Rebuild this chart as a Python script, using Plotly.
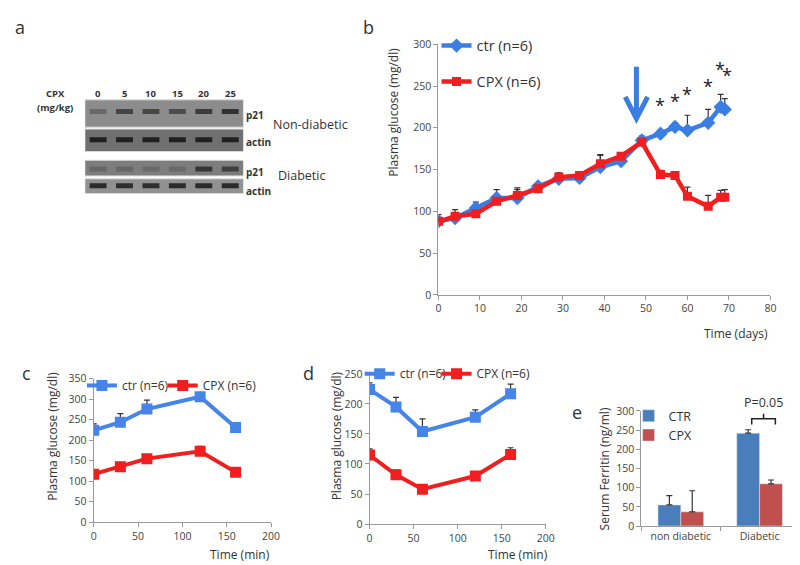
import plotly.graph_objects as go

W, H = 800, 565
def PX(x): return x / W
def PY(y): return 1 - y / H

FONT = "Open Sans"
BLUE = "#3a7de3"
BLUE2 = "#4784e8"
RED = "#f01e1e"
ERRC = "#333333"

# ---------- panel a: western blot ----------
lanes = ["0", "5", "10", "15", "20", "25"]
p21_nondiab = [0.30, 0.62, 0.60, 0.55, 0.70, 0.78]
actin_nondiab = [0.92, 0.90, 0.92, 0.92, 0.90, 0.90]
p21_diab = [0.22, 0.22, 0.18, 0.20, 0.72, 0.62]
actin_diab = [0.85, 0.82, 0.82, 0.85, 0.85, 0.85]

# ---------- panel b ----------
days = [0, 4, 9, 14, 19, 24, 29, 34, 39, 44, 49, 53.5, 57, 60, 65, 68, 69]
ctr_b = [88, 92, 104, 116, 116, 130, 139, 140, 153, 160, 185, 193, 201, 197, 206, 225, 222]
ctr_b_err = [8, 10, 7, 10, 10, 3, 6, 5, 14, 8, 5, 4, 5, 18, 16, 15, 13]
cpx_b = [88, 94, 97, 112, 119, 127, 141, 143, 157, 166, 183, 144, 143, 118, 106, 117, 117]
cpx_b_err = [4, 4, 4, 4, 9, 4, 5, 4, 11, 3, 3, 5, 2, 11, 13, 8, 9]
star_days = [53.5, 57, 60, 65, 67.8, 69.5]
star_y = [218, 223, 231, 241, 261, 254]

# ---------- panel c ----------
t_min = [0, 30, 60, 120, 160]
ctr_c = [224, 244, 276, 306, 231]
ctr_c_err = [16, 21, 22, 8, 10]
cpx_c = [117, 135, 155, 173, 122]
cpx_c_err = [6, 5, 8, 12, 5]

# ---------- panel d ----------
ctr_d = [224, 195, 154, 178, 217]
ctr_d_err = [11, 16, 21, 12, 16]
cpx_d = [115, 82, 58, 80, 116]
cpx_d_err = [10, 8, 5, 5, 11]

# ---------- panel e ----------
groups_e = ["non diabetic", "Diabetic"]
ctr_e = [55, 242]
ctr_e_err = [24, 9]
cpx_e = [37, 110]
cpx_e_err = [55, 10]

fig = go.Figure()

def errs(a):
    return dict(type="data", symmetric=False, array=a, arrayminus=[0] * len(a),
                color=ERRC, thickness=1.2, width=3)

# panel a bands
strips = [  # (top, bottom, band_y, bg gray level, intensities)
    (87, 115, 99, 140, p21_nondiab),
    (117, 140, 128, 112, actin_nondiab),
    (149, 165, 158, 125, p21_diab),
    (168, 183, 175, 145, actin_diab),
]
shapes = []
for top, bot, by, bg, inten in strips:
    shapes.append(dict(type="rect", xref="x5", yref="y5", x0=-0.5, x1=5.5, y0=top, y1=bot,
                       fillcolor=f"rgb({bg},{bg},{bg})", line=dict(color="#d8d8d8", width=1),
                       layer="below"))
    for i, v in enumerate(inten):
        g = int(bg * (1 - v) + 25 * v)
        fig.add_trace(go.Scatter(x=[i - 0.32, i + 0.32], y=[by, by], mode="lines",
                                 line=dict(color=f"rgb({g},{g},{g})", width=5),
                                 xaxis="x5", yaxis="y5", showlegend=False, hoverinfo="skip"))

# panel b
fig.add_trace(go.Scatter(x=days, y=ctr_b, name="ctr (n=6)", mode="lines+markers",
                         line=dict(color=BLUE, width=4.5),
                         marker=dict(symbol="diamond", size=11, color=BLUE),
                         error_y=errs(ctr_b_err), xaxis="x", yaxis="y",
                         legend="legend", legendgroup="b1"))
fig.add_trace(go.Scatter(x=days, y=cpx_b, name="CPX (n=6)", mode="lines+markers",
                         line=dict(color=RED, width=4.5),
                         marker=dict(symbol="square", size=9, color=RED),
                         error_y=errs(cpx_b_err), xaxis="x", yaxis="y",
                         legend="legend", legendgroup="b2"))

# panel c
fig.add_trace(go.Scatter(x=t_min, y=ctr_c, name="ctr (n=6)", mode="lines+markers",
                         line=dict(color=BLUE2, width=4),
                         marker=dict(symbol="square", size=11, color=BLUE2),
                         error_y=errs(ctr_c_err), xaxis="x2", yaxis="y2", legend="legend2"))
fig.add_trace(go.Scatter(x=t_min, y=cpx_c, name="CPX (n=6)", mode="lines+markers",
                         line=dict(color=RED, width=4),
                         marker=dict(symbol="square", size=11, color=RED),
                         error_y=errs(cpx_c_err), xaxis="x2", yaxis="y2", legend="legend3"))

# panel d
fig.add_trace(go.Scatter(x=t_min, y=ctr_d, name="ctr (n=6)", mode="lines+markers",
                         line=dict(color=BLUE2, width=4),
                         marker=dict(symbol="square", size=11, color=BLUE2),
                         error_y=errs(ctr_d_err), xaxis="x3", yaxis="y3", legend="legend4"))
fig.add_trace(go.Scatter(x=t_min, y=cpx_d, name="CPX (n=6)", mode="lines+markers",
                         line=dict(color=RED, width=4),
                         marker=dict(symbol="square", size=11, color=RED),
                         error_y=errs(cpx_d_err), xaxis="x3", yaxis="y3", legend="legend5"))

# panel e
fig.add_trace(go.Bar(x=groups_e, y=ctr_e, name="CTR", marker=dict(color="#4a7ebb"),
                     error_y=errs(ctr_e_err), xaxis="x4", yaxis="y4", legend="legend6"))
fig.add_trace(go.Bar(x=groups_e, y=cpx_e, name="CPX", marker=dict(color="#c0504d"),
                     error_y=errs(cpx_e_err), xaxis="x4", yaxis="y4", legend="legend6"))

AX = dict(showline=True, linecolor="#999999", linewidth=1, ticks="outside", tickcolor="#999999",
          ticklen=4, showgrid=False, zeroline=False, tickfont=dict(family=FONT, size=10.5, color="#444444"))

LEGF = dict(family=FONT, size=12, color="#333333")
def small_leg(x, y):
    return dict(x=PX(x), y=PY(y), xanchor="left", yanchor="top", bgcolor="rgba(0,0,0,0)", font=LEGF)

fig.update_layout(
    width=W, height=H, margin=dict(l=0, r=0, t=0, b=0),
    paper_bgcolor="white", plot_bgcolor="rgba(0,0,0,0)",
    font=dict(family=FONT, color="#333333"),
    bargap=0.42, bargroupgap=0, barmode="group",
    xaxis=dict(AX, domain=[PX(434), PX(771)], range=[0, 80], dtick=10, anchor="y"),
    yaxis=dict(AX, domain=[PY(287), PY(30)], range=[0, 300], dtick=50, anchor="x"),
    xaxis2=dict(AX, domain=[PX(84), PX(264)], range=[0, 200], dtick=50, anchor="y2"),
    yaxis2=dict(AX, domain=[PY(520), PY(373)], range=[0, 350], dtick=50, anchor="x2"),
    xaxis3=dict(AX, domain=[PX(364), PX(543)], range=[0, 200], dtick=50, anchor="y3"),
    yaxis3=dict(AX, domain=[PY(522), PY(368)], range=[0, 250], dtick=50, anchor="x3"),
    xaxis4=dict(AX, domain=[PX(640), PX(800)], range=[-0.5, 1.5], type="category",
                tickson="boundaries", anchor="y4"),
    yaxis4=dict(AX, domain=[PY(524), PY(406)], range=[0, 300], dtick=50, anchor="x4"),
    xaxis5=dict(domain=[PX(75), PX(236)], range=[-0.5, 5.5], visible=False, anchor="y5"),
    yaxis5=dict(domain=[0, 1], range=[H, 0], visible=False, anchor="x5"),
    legend=dict(x=PX(432), y=PY(15), xanchor="left", yanchor="top", bgcolor="rgba(0,0,0,0)",
                font=dict(family=FONT, size=14.5, color="#333333"), tracegroupgap=14),
    legend2=small_leg(72, 365),
    legend3=small_leg(154, 365),
    legend4=small_leg(354, 353),
    legend5=small_leg(432, 353),
    legend6=dict(x=PX(627), y=PY(396), xanchor="left", yanchor="top",
                 bgcolor="rgba(0,0,0,0)", font=dict(family=FONT, size=12.5, color="#333333"),
                 tracegroupgap=2),
)

ann = []
def txt(x, y, s, size=12, xanchor="center", yanchor="middle", angle=0, bold=False, color="#333333"):
    ann.append(dict(x=PX(x), y=PY(y), xref="paper", yref="paper", text=f"<b>{s}</b>" if bold else s,
                    showarrow=False, xanchor=xanchor, yanchor=yanchor, textangle=angle,
                    font=dict(family=FONT, size=size, color=color)))

# panel letters
txt(9, 12, "a", 18)
txt(363, 12, "b", 18)
txt(16, 367, "c", 18)
txt(302, 367, "d", 18)
txt(575, 407, "e", 18)

# panel a labels
txt(45, 81, "CPX", 9.5, bold=True)
txt(45, 95, "(mg/kg)", 9.5, bold=True)
for i, lab in enumerate(lanes):
    ann.append(dict(x=i, y=81, xref="x5", yref="y5", text=f"<b>{lab}</b>", showarrow=False,
                    font=dict(family=FONT, size=9.5, color="#333333")))
txt(237, 103, "p21", 10, xanchor="left", bold=True)
txt(237, 130, "actin", 10, xanchor="left", bold=True)
txt(237, 161, "p21", 10, xanchor="left", bold=True)
txt(237, 180, "actin", 10, xanchor="left", bold=True)
txt(264, 112, "Non-diabetic", 12.5, xanchor="left")
txt(269, 165, "Diabetic", 12.5, xanchor="left")

# axis titles
txt(388, 100, "Plasma glucose (mg/dl)", 12, angle=-90)
txt(771, 327, "Time (days)", 12, xanchor="right")
txt(42, 432, "Plasma glucose (mg/dl)", 12, angle=-90)
txt(265, 553, "Time (min)", 12, xanchor="right")
txt(330, 432, "Plasma glucose (mg/dl)", 12, angle=-90)
txt(547, 553, "Time (min)", 12, xanchor="right")
txt(603, 465, "Serum Ferritin (ng/ml)", 12, angle=-90)

# stars in panel b
for sx, sy in zip(star_days, star_y):
    ann.append(dict(x=sx, y=sy, xref="x", yref="y", text="*", showarrow=False, yanchor="middle",
                    yshift=8, font=dict(family=FONT, size=18, color="#222222")))

# P value panel e
txt(764, 397, "P=0.05", 12.5)
shapes.append(dict(type="path", xref="paper", yref="paper",
                   path=f"M {PX(752)} {PY(420)} L {PX(752)} {PY(414)} L {PX(776)} {PY(414)} L {PX(776)} {PY(420)} "
                        f"M {PX(764)} {PY(414)} L {PX(764)} {PY(409)}",
                   line=dict(color="#222222", width=1.5)))

# arrow in panel b
shapes.append(dict(type="line", xref="x", yref="y", x0=47.7, x1=47.7, y0=273, y1=213,
                   line=dict(color=BLUE, width=5)))
shapes.append(dict(type="path", xref="x", yref="y",
                   path="M 45.0 237 L 47.7 211 L 50.4 237",
                   line=dict(color=BLUE, width=5)))

fig.update_layout(annotations=ann, shapes=shapes)
fig.write_html("out.html")
